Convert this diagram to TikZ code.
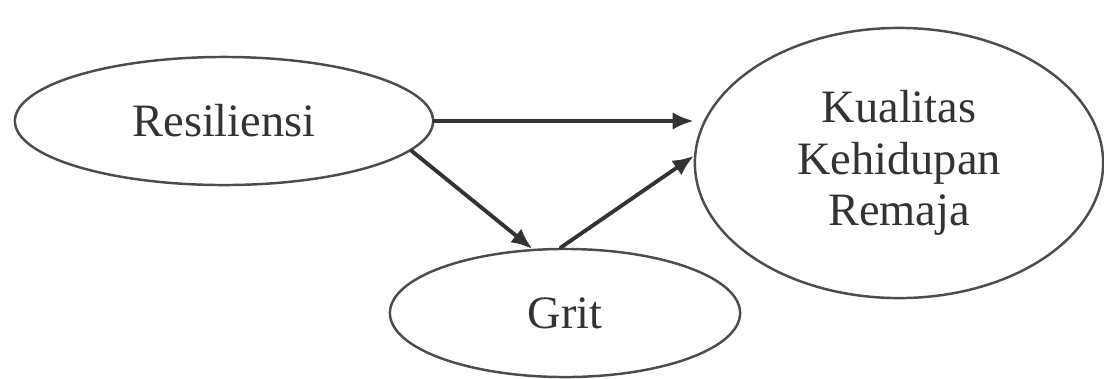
\documentclass[tikz,border=0pt]{standalone}
\usepackage{fontspec}
\setmainfont{Liberation Serif}
\usetikzlibrary{shapes.geometric,arrows.meta}
\begin{document}
\begin{tikzpicture}[x=0.01cm,y=0.01cm,line cap=round,line join=round,
  var/.style={draw=black!70,line width=0.7pt,ellipse,inner sep=0pt,align=center,
    font=\fontsize{13.2}{14.6}\selectfont,text=black!80},
  link/.style={-{Latex[length=6pt,width=5pt]},line width=1.1pt,draw=black!80}]
 \useasboundingbox (0,0) rectangle (1104,378);
 \node[var,minimum width=4.18cm,minimum height=1.28cm] (res) at (224,257) {Resiliensi};
 \node[var,minimum width=4.08cm,minimum height=2.7cm] (kual) at (899,215) {Kualitas\\Kehidupan\\Remaja};
 \node[var,minimum width=3.5cm,minimum height=1.28cm] (grit) at (565,65) {Grit};
 \draw[link] (res.east) -- (res.east -| kual.west);
 \draw[link] (res.-9) -- (grit.117);
 \draw[link] (grit.94) -- (kual.178);
\end{tikzpicture}
\end{document}
